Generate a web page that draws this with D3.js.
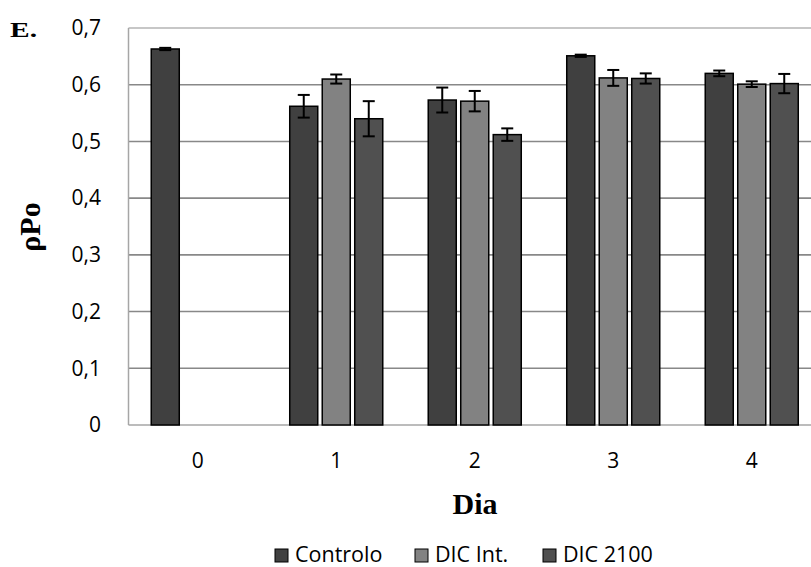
<!DOCTYPE html>
<html>
<head>
<meta charset="utf-8">
<script src="https://cdn.jsdelivr.net/npm/d3@7"></script>
<style>
  html, body { margin: 0; padding: 0; background: #fff; overflow: hidden; }
  svg { display: block; }
</style>
</head>
<body>
<svg id="chart" width="811" height="567"></svg>
<script>
const categories = ["0", "1", "2", "3", "4"];
const seriesNames = ["Controlo", "DIC Int.", "DIC 2100"];
const controlo = [0.663, 0.562, 0.573, 0.651, 0.620];
const dicInt = [null, 0.610, 0.571, 0.612, 0.601];
const dic2100 = [null, 0.540, 0.512, 0.611, 0.602];
const errControlo = [0.002, 0.020, 0.022, 0.002, 0.005];
const errDicInt = [null, 0.008, 0.018, 0.014, 0.005];
const errDic2100 = [null, 0.031, 0.011, 0.009, 0.017];
const yTicks = [0, 0.1, 0.2, 0.3, 0.4, 0.5, 0.6, 0.7];
const colors = ["#404040", "#828282", "#505050"];

const values = [controlo, dicInt, dic2100];
const errors = [errControlo, errDicInt, errDic2100];

const svg = d3.select("#chart");
const pLeft = 128.5, pTop = 28, pBottom = 425;
const band = 138.5;
const pRight = pLeft + band * categories.length;

const x0 = d3.scaleBand().domain(categories).range([pLeft, pRight]).paddingInner(0.296).paddingOuter(0.148);
const x1 = d3.scaleBand().domain(seriesNames).range([0, x0.bandwidth()]).paddingInner(0.138).paddingOuter(0.069);
const y = d3.scaleLinear().domain([0, 0.7]).range([pBottom, pTop]);

const sans = "'Open Sans', sans-serif";
const serif = "'Liberation Serif', 'Times New Roman', serif";

// gridlines
svg.append("g").selectAll("line").data(yTicks.filter(t => t > 0)).join("line")
  .attr("x1", pLeft).attr("x2", pRight)
  .attr("y1", d => y(d)).attr("y2", d => y(d))
  .attr("stroke", d => d === 0.7 ? "#b4b4b4" : "#888").attr("stroke-width", 1.6);

// axis lines
svg.append("line").attr("x1", pLeft).attr("x2", pLeft).attr("y1", pTop).attr("y2", pBottom)
  .attr("stroke", "#a6a6a6").attr("stroke-width", 1.5);
svg.append("line").attr("x1", pLeft).attr("x2", pRight).attr("y1", pBottom).attr("y2", pBottom)
  .attr("stroke", "#a6a6a6").attr("stroke-width", 1.5);

// y tick labels
svg.append("g").selectAll("text").data(yTicks).join("text")
  .attr("x", 101).attr("y", d => y(d)).attr("dy", "0.35em")
  .attr("text-anchor", "end")
  .style("font-family", sans).style("font-size", "21px").attr("fill", "#000")
  .text(d => d === 0 ? "0" : d3.format(".1f")(d).replace(".", ","));

// x tick labels
svg.append("g").selectAll("text").data(categories).join("text")
  .attr("x", d => x0(d) + x0.bandwidth() / 2).attr("y", 461).attr("dy", "0.35em")
  .attr("text-anchor", "middle")
  .style("font-family", sans).style("font-size", "21px").attr("fill", "#000")
  .text(d => d);

// bars
const barData = [];
categories.forEach((c, i) => {
  seriesNames.forEach((s, j) => {
    if (values[j][i] != null) barData.push({ c, s, j, v: values[j][i], e: errors[j][i] });
  });
});

svg.append("g").selectAll("rect").data(barData).join("rect")
  .attr("x", d => x0(d.c) + x1(d.s))
  .attr("y", d => y(d.v))
  .attr("width", x1.bandwidth())
  .attr("height", d => y(0) - y(d.v))
  .attr("fill", d => colors[d.j])
  .attr("stroke", "#000").attr("stroke-width", 1.5);

// error bars
const gErr = svg.append("g").attr("stroke", "#000").attr("stroke-width", 2);
barData.forEach(d => {
  const cx = x0(d.c) + x1(d.s) + x1.bandwidth() / 2;
  const y1 = y(d.v + d.e), y2 = y(d.v - d.e);
  gErr.append("line").attr("x1", cx).attr("x2", cx).attr("y1", y1).attr("y2", y2);
  gErr.append("line").attr("x1", cx - 6).attr("x2", cx + 6).attr("y1", y1).attr("y2", y1);
  gErr.append("line").attr("x1", cx - 6).attr("x2", cx + 6).attr("y1", y2).attr("y2", y2);
});

// titles
svg.append("text").attr("x", 475).attr("y", 514).attr("text-anchor", "middle")
  .style("font-family", serif).style("font-size", "30px").style("font-weight", "bold")
  .text("Dia");
svg.append("text").attr("transform", "translate(40,227) rotate(-90)").attr("text-anchor", "middle")
  .style("font-family", serif).style("font-size", "30px").style("font-weight", "bold")
  .text("ρPo");
svg.append("text").attr("x", 10).attr("y", 37)
  .attr("textLength", 27).attr("lengthAdjust", "spacingAndGlyphs")
  .style("font-family", serif).style("font-size", "21px").style("font-weight", "bold")
  .text("E.");

// legend
const legendX = [275, 415, 543];
const lg = svg.append("g");
seriesNames.forEach((s, j) => {
  lg.append("rect").attr("x", legendX[j]).attr("y", 549).attr("width", 13).attr("height", 13)
    .attr("fill", colors[j]).attr("stroke", "#000").attr("stroke-width", 1);
  lg.append("text").attr("x", legendX[j] + 20).attr("y", 562)
    .style("font-family", sans).style("font-size", "21.5px").text(s);
});
</script>
</body>
</html>
